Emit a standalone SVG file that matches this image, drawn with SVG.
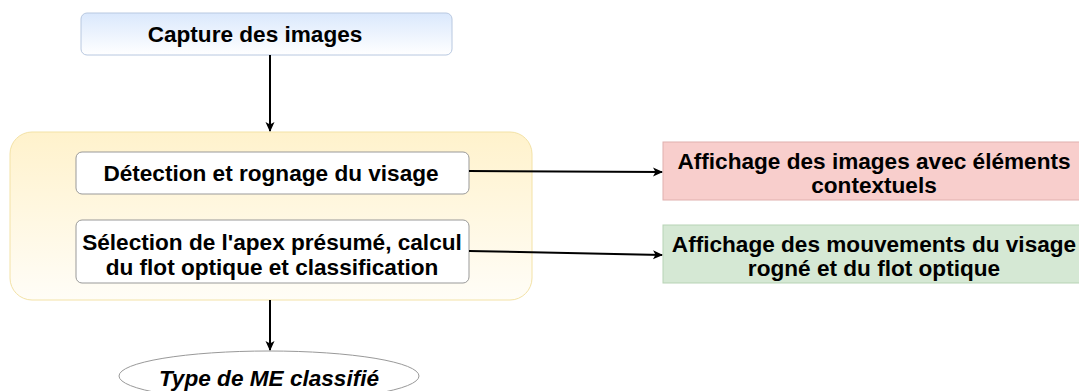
<svg xmlns="http://www.w3.org/2000/svg" width="1079" height="391" viewBox="0 0 1079 391">
<defs>
<linearGradient id="gBlue" x1="0" y1="0" x2="0" y2="1"><stop offset="0" stop-color="#dae8fc"/><stop offset="1" stop-color="#ffffff"/></linearGradient>
<linearGradient id="gYel" x1="0" y1="0" x2="0" y2="1"><stop offset="0" stop-color="#fff2cc"/><stop offset="1" stop-color="#fffdf7"/></linearGradient>
<marker id="arr" markerWidth="12" markerHeight="12" refX="10" refY="6" orient="auto" markerUnits="userSpaceOnUse"><path d="M1,1.5 L11,6 L1,10.5 L3.5,6 Z" fill="#000"/></marker>
<style>
.t{font-family:"Liberation Sans",Arial,sans-serif;font-weight:bold;font-size:22.6px;fill:#000;text-anchor:middle}
.c{stroke:#000;stroke-width:2;fill:none;marker-end:url(#arr)}
</style>
</defs>
<g id="container"><rect x="10" y="132" width="522" height="168" rx="22" fill="url(#gYel)" stroke="#f3e2a6" stroke-width="1"/></g>
<g id="capture"><rect x="81" y="13" width="371" height="42" rx="6" fill="url(#gBlue)" stroke="#b8c8e0"/><text class="t" x="255" y="42">Capture des images</text></g>
<g id="detection"><rect x="76" y="152" width="393" height="42" rx="6" fill="#fff" stroke="#999"/><text class="t" x="271" y="181">Détection et rognage du visage</text></g>
<g id="selection"><rect x="76" y="220" width="393" height="63" rx="6" fill="#fff" stroke="#999"/><text class="t" x="272" y="250">Sélection de l'apex présumé, calcul</text><text class="t" x="272" y="275">du flot optique et classification</text></g>
<g id="affichage1"><rect x="663" y="142" width="420" height="58" fill="#f8cecc" stroke="#e0b0ae"/><text class="t" x="874" y="169">Affichage des images avec éléments</text><text class="t" x="874" y="193">contextuels</text></g>
<g id="affichage2"><rect x="663" y="225" width="420" height="58" fill="#d5e8d4" stroke="#b7d3b5"/><text class="t" x="874" y="252">Affichage des mouvements du visage</text><text class="t" x="874" y="276">rogné et du flot optique</text></g>
<g id="type"><ellipse cx="269" cy="376" rx="150" ry="25" fill="#fff" stroke="#999"/><text class="t" x="269" y="386" font-style="italic">Type de ME classifié</text></g>
<g id="connectors">
<line class="c" x1="270" y1="55" x2="270" y2="131"/>
<line class="c" x1="469" y1="171" x2="662" y2="172"/>
<line class="c" x1="469" y1="251" x2="662" y2="255"/>
<line class="c" x1="270" y1="300" x2="270" y2="350"/>
</g>
</svg>
